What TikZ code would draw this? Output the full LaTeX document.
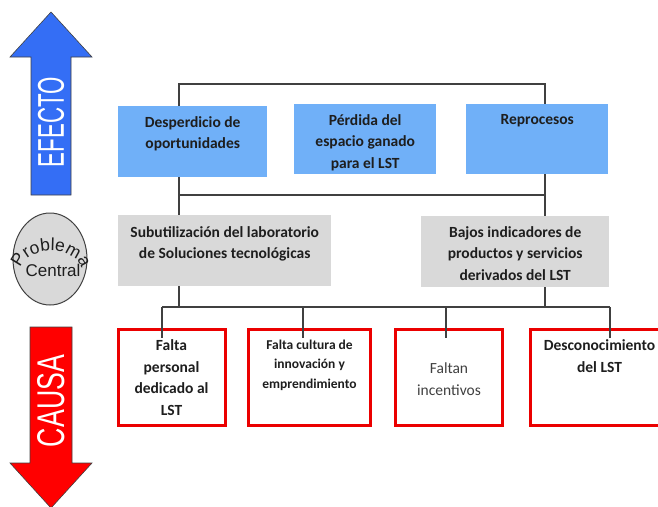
\documentclass[tikz,border=0pt]{standalone}
\usepackage{fontspec}
\setmainfont{Carlito}
\newfontfamily\arialf{Liberation Sans}
\usetikzlibrary{decorations.text,shapes.geometric}

\definecolor{effblue}{RGB}{112,176,248}
\definecolor{probgray}{RGB}{217,217,217}
\definecolor{linegray}{RGB}{64,64,64}
\definecolor{arrowblue}{RGB}{52,110,245}
\definecolor{causered}{RGB}{255,0,0}
\definecolor{boxred}{RGB}{235,0,0}
\definecolor{txt}{RGB}{30,30,30}

\begin{document}
\begin{tikzpicture}[x=1pt,y=-1pt,
  effbox/.style={fill=effblue, draw=none, inner sep=0pt, anchor=north west},
  probbox/.style={fill=probgray, draw=none, inner sep=0pt, anchor=north west},
  causebox/.style={draw=boxred, line width=3pt, fill=white, inner sep=0pt, anchor=north west},
  conn/.style={draw=linegray, line width=1.3pt},
  btxt/.style={font=\fontsize{15.5}{21.5}\selectfont\bfseries, text=txt, align=center, inner sep=0pt, anchor=north},
  stxt/.style={font=\fontsize{13.5}{19.5}\selectfont\bfseries, text=txt, align=center, inner sep=0pt, anchor=north},
  ntxt/.style={font=\fontsize{15.5}{21.5}\selectfont, text=linegray, align=center, inner sep=0pt},
  bigarrow/.style={draw=linegray, line width=0.6pt},
  arrowtxt/.style={text=white, rotate=90, inner sep=0pt}
]
\useasboundingbox (0,0) rectangle (658,506);

% side arrows
\path[bigarrow, fill=arrowblue] (51,12) -- (92,57) -- (71,57) -- (71,195) -- (31,195) -- (31,57) -- (10,57) -- cycle;
\node[arrowtxt] (efecto) at (51,122) {\resizebox{90pt}{26pt}{\arialf EFECTO}};

\path[bigarrow, fill=causered] (30,327) -- (72,327) -- (72,463) -- (92,463) -- (51,508) -- (10,463) -- (30,463) -- cycle;
\node[arrowtxt] (causa) at (51,401) {\resizebox{92pt}{27pt}{\arialf CAUSA}};

% central problem ellipse
\node[ellipse, draw=linegray, fill=probgray, line width=1pt, minimum width=74pt, minimum height=92pt, inner sep=0pt] (prob) at (50,259) {};
\node[font=\arialf\fontsize{17}{17}\selectfont, text=txt, anchor=base, inner sep=0pt] (central) at (53,276) {Central};
\path[decorate, decoration={text along path, text={|\arialf\fontsize{17.5}{17.5}\selectfont\color{txt}|Problema}, text align=center}]
  (51,270) ++(180:30pt and 19pt) arc[start angle=180, end angle=0, x radius=30pt, y radius=19pt];

% effect boxes
\node[effbox, minimum width=149pt, minimum height=71pt] (e1) at (118,106) {};
\node[effbox, minimum width=142pt, minimum height=70pt] (e2) at (294,104) {};
\node[effbox, minimum width=142pt, minimum height=70pt] (e3) at (466,104) {};
\node[btxt] (e1t) at ([yshift=-10pt]e1.north) {Desperdicio de\\oportunidades};
\node[btxt] (e2t) at ([yshift=-10pt]e2.north) {Pérdida del\\espacio ganado\\para el LST};
\node[btxt] (e3t) at ([yshift=-10pt]e3.north) {Reprocesos};

% problem boxes
\node[probbox, minimum width=213pt, minimum height=71pt] (p1) at (118,215) {};
\node[probbox, minimum width=188pt, minimum height=71pt] (p2) at (421,216) {};
\node[btxt] (p1t) at ([yshift=-11pt]p1.north) {Subutilización del laboratorio\\de Soluciones tecnológicas};
\node[btxt] (p2t) at ([yshift=-10pt]p2.north) {Bajos indicadores de\\productos y servicios\\derivados del LST};

% cause boxes
\node[causebox, minimum width=107pt, minimum height=96pt] (r1) at (116.5,327.5) {};
\node[causebox, minimum width=122pt, minimum height=96pt] (r2) at (247,327.5) {};
\node[causebox, minimum width=107pt, minimum height=96pt] (r3) at (394,327.5) {};
\node[causebox, minimum width=138pt, minimum height=96pt] (r4) at (529,327.5) {};
\node[btxt] (r1t) at ([yshift=-12pt]r1.north) {Falta\\personal\\dedicado al\\LST};
\node[stxt] (r2t) at ([yshift=-12pt]r2.north) {Falta cultura de\\innovación y\\emprendimiento};
\node[ntxt] (r3t) at ([yshift=-2pt]r3.center) {Faltan\\incentivos};
\node[btxt] (r4t) at ([yshift=-12pt]r4.north) {Desconocimiento\\del LST};

% connector coordinates
\coordinate (t1) at (179,84);
\coordinate (t3) at (545,84);
\coordinate (m1) at (179,195);
\coordinate (m3) at (545,195);
\coordinate (b1) at (179,307);
\coordinate (b3) at (545,307);
\coordinate (c1) at (162,307);
\coordinate (c2) at (303,307);
\coordinate (c3) at (446,307);
\coordinate (c4) at (610,307);

% connectors
\draw[conn] (e1.north -| t1) -- (t1) -- (t3) -- (e3.north -| t3);
\draw[conn] (e1.south -| t1) -- (p1.north -| t1);
\draw[conn] (e3.south -| t3) -- (p2.north -| t3);
\draw[conn] (m1) -- (m3);
\draw[conn] (p1.south -| b1) -- (b1);
\draw[conn] (p2.south -| b3) -- (b3);
\draw[conn] (c1) -- (c4);
\draw[conn] (c1) -- ([yshift=-10pt]r1.north -| c1);
\draw[conn] (c2) -- ([yshift=-10pt]r2.north -| c2);
\draw[conn] (c3) -- ([yshift=-10pt]r3.north -| c3);
\draw[conn] (c4) -- ([yshift=-10pt]r4.north -| c4);
\end{tikzpicture}
\end{document}
